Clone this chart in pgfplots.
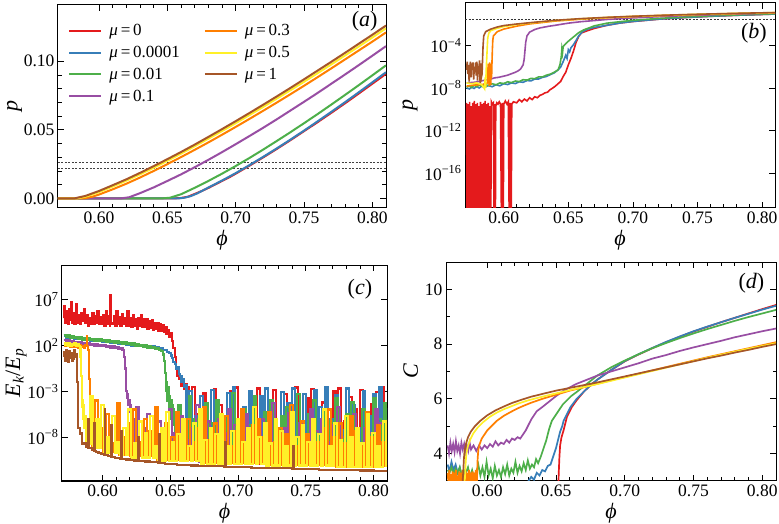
\documentclass[border=0pt]{standalone}
\usepackage{pgfplots}
\pgfplotsset{compat=1.18}
\usepackage{fontspec}
\setmainfont{Liberation Serif}
\definecolor{cR}{RGB}{228,26,28}
\definecolor{cB}{RGB}{55,126,184}
\definecolor{cG}{RGB}{77,175,74}
\definecolor{cP}{RGB}{152,78,163}
\definecolor{cO}{RGB}{255,127,0}
\definecolor{cY}{RGB}{255,240,40}
\definecolor{cN}{RGB}{166,86,40}
\tikzset{plab/.style={font=\fontsize{22}{22}\selectfont}}
\pgfplotsset{
 panel/.style={
   scale only axis, anchor=south west,
   xmin=0.57, xmax=0.81,
   xtick={0.60,0.65,0.70,0.75,0.80},
   minor x tick num=4,
   tick align=inside,
   major tick length=6pt, minor tick length=3.5pt,
   every tick/.style={black, line width=0.8pt},
   axis line style={black, line width=1pt},
   tick label style={font=\fontsize{17.5}{18}\selectfont},
   label style={font=\fontsize{22}{22}\selectfont},
   xlabel={\textit{ϕ}},
   x tick label style={/pgf/number format/.cd, fixed, fixed zerofill, precision=2, assume math mode=true},
   scaled x ticks=false,
 },
}
\begin{document}
\begin{tikzpicture}
\path[use as bounding box] (0pt,0pt) rectangle (779pt,524pt);
%% ---------------- (a)
\begin{axis}[panel, at={(58pt,316pt)}, width=328pt, height=203pt,
  ymin=-0.007, ymax=0.141, ytick={0,0.05,0.1}, minor y tick num=4,
  scaled y ticks=false,
  y tick label style={/pgf/number format/.cd, fixed, fixed zerofill, precision=2, assume math mode=true},
  ylabel={\textit{p}}, ylabel shift=-5pt,
  legend columns=2, legend cell align=left,
  legend style={draw=none, fill=none, at={(0.022,0.925)}, anchor=north west,
    font=\fontsize{17}{19}\selectfont, row sep=5pt,
    /tikz/every odd column/.append style={column sep=5pt},
    /tikz/every even column/.append style={column sep=22pt}},
  legend image code/.code={\draw[#1] (0pt,0pt) -- (32pt,0pt);},
  every axis plot/.append style={line width=2pt},
]
\addlegendimage{cR}\addlegendentry{\textit{μ}\,=\,0}
\addlegendimage{cO}\addlegendentry{\textit{μ}\,=\,0.3}
\addlegendimage{cB}\addlegendentry{\textit{μ}\,=\,0.0001}
\addlegendimage{cY}\addlegendentry{\textit{μ}\,=\,0.5}
\addlegendimage{cG}\addlegendentry{\textit{μ}\,=\,0.01}
\addlegendimage{cN}\addlegendentry{\textit{μ}\,=\,1}
\addlegendimage{cP}\addlegendentry{\textit{μ}\,=\,0.1}
\addplot[black!75, line width=0.7pt, dash pattern=on 2pt off 1.5pt, forget plot] coordinates {(0.57,0.026)(0.81,0.026)};
\addplot[black!75, line width=0.7pt, dash pattern=on 2pt off 1.5pt, forget plot] coordinates {(0.57,0.022)(0.81,0.022)};
\addplot[cR, forget plot] coordinates {(0.57,0)(0.655,0)(0.660,0.0003)(0.665,0.0012)(0.67,0.0032)(0.675,0.0053)(0.68,0.0076)(0.685,0.0101)(0.69,0.0127)(0.695,0.0152)(0.70,0.0180)(0.71,0.0238)(0.72,0.0298)(0.73,0.0360)(0.74,0.0424)(0.75,0.0490)(0.76,0.0556)(0.77,0.0624)(0.78,0.0693)(0.79,0.0764)(0.80,0.0836)(0.81,0.0908)};
\addplot[cB, forget plot] coordinates {(0.57,0)(0.658,0)(0.662,0.0004)(0.667,0.0016)(0.672,0.0037)(0.68,0.0079)(0.69,0.0130)(0.70,0.0184)(0.71,0.0242)(0.72,0.0302)(0.73,0.0364)(0.74,0.0428)(0.75,0.0494)(0.76,0.0562)(0.77,0.0631)(0.78,0.0701)(0.79,0.0773)(0.80,0.0846)(0.81,0.0920)};
\addplot[cG, forget plot] coordinates {(0.57,0)(0.646,0)(0.652,0.0005)(0.66,0.0030)(0.67,0.0077)(0.68,0.0127)(0.69,0.0180)(0.70,0.0236)(0.71,0.0294)(0.72,0.0355)(0.73,0.0418)(0.74,0.0482)(0.75,0.0548)(0.76,0.0615)(0.77,0.0684)(0.78,0.0754)(0.79,0.0825)(0.80,0.0897)(0.81,0.0970)};
\addplot[cP, forget plot] coordinates {(0.57,0)(0.616,0)(0.622,0.0008)(0.63,0.0038)(0.64,0.0080)(0.65,0.0127)(0.66,0.0175)(0.67,0.0227)(0.68,0.0281)(0.69,0.0337)(0.70,0.0395)(0.71,0.0454)(0.72,0.0514)(0.73,0.0576)(0.74,0.0640)(0.75,0.0704)(0.76,0.0769)(0.77,0.0836)(0.78,0.0903)(0.79,0.0971)(0.80,0.1040)(0.81,0.1110)};
\addplot[cO, forget plot] coordinates {(0.57,0)(0.589,0)(0.595,0.0012)(0.60,0.0028)(0.61,0.0066)(0.62,0.0107)(0.63,0.0152)(0.64,0.0200)(0.65,0.0250)(0.66,0.0301)(0.67,0.0354)(0.68,0.0408)(0.69,0.0464)(0.70,0.0521)(0.71,0.0579)(0.72,0.0638)(0.73,0.0698)(0.74,0.0759)(0.75,0.0821)(0.76,0.0884)(0.77,0.0948)(0.78,0.1013)(0.79,0.1078)(0.80,0.1143)(0.81,0.1210)};
\addplot[cY, forget plot] coordinates {(0.57,0)(0.584,0)(0.59,0.0012)(0.60,0.0046)(0.61,0.0086)(0.62,0.0129)(0.63,0.0175)(0.64,0.0223)(0.65,0.0274)(0.66,0.0326)(0.67,0.0380)(0.68,0.0435)(0.69,0.0491)(0.70,0.0548)(0.71,0.0607)(0.72,0.0666)(0.73,0.0727)(0.74,0.0788)(0.75,0.0850)(0.76,0.0913)(0.77,0.0977)(0.78,0.1042)(0.79,0.1107)(0.80,0.1173)(0.81,0.1240)};
\addplot[cN, forget plot] coordinates {(0.57,0)(0.582,0)(0.59,0.0018)(0.60,0.0054)(0.61,0.0096)(0.62,0.0139)(0.63,0.0186)(0.64,0.0235)(0.65,0.0286)(0.66,0.0338)(0.67,0.0392)(0.68,0.0448)(0.69,0.0505)(0.70,0.0563)(0.71,0.0622)(0.72,0.0682)(0.73,0.0743)(0.74,0.0805)(0.75,0.0868)(0.76,0.0932)(0.77,0.0996)(0.78,0.1061)(0.79,0.1127)(0.80,0.1193)(0.81,0.1260)};
\node[plab, anchor=north east] at (rel axis cs:0.985,0.985) {(\textit{a})};
\end{axis}
%% ---------------- (b)
\begin{axis}[panel, at={(465pt,316pt)}, width=310pt, height=205pt,
  ymode=log, ymin=5e-20, ymax=1, ytick={1e-16,1e-12,1e-8,1e-4},
  yticklabels={10\textsuperscript{−16},10\textsuperscript{−12},10\textsuperscript{−8},10\textsuperscript{−4}},
  yminorticks=false,
  ylabel={\textit{p}},
  every axis plot/.append style={line width=1.6pt},
]
\addplot[black!80, line width=0.7pt, dash pattern=on 2pt off 1.5pt] coordinates {(0.57,0.026)(0.81,0.026)};
\addplot[cR] coordinates {(0.5712,4e-10)(0.5718,1e-25)(0.5724,3e-10)(0.5730,1e-25)(0.5736,5e-10)(0.5742,1e-25)(0.5748,2e-10)(0.5754,1e-25)(0.5760,4e-10)(0.5766,1e-25)(0.5772,6e-10)(0.5778,1e-25)(0.5784,3e-10)(0.5790,1e-25)(0.5796,4e-10)(0.5802,1e-25)(0.5808,2e-10)(0.5814,1e-25)(0.5820,5e-10)(0.5826,1e-25)(0.5832,3e-10)(0.5838,1e-25)(0.5844,4e-10)(0.5850,1e-25)(0.5856,6e-10)(0.5862,1e-25)(0.5868,3e-10)(0.5874,1e-25)(0.5880,4e-10)(0.5886,1e-25)(0.5892,2e-10)(0.5898,1e-25)(0.5904,5e-10)(0.5912,3e-10)(0.5920,4e-10)(0.5926,1e-25)(0.5930,3e-10)(0.5934,1e-25)(0.5938,2e-10)(0.5946,4e-10)(0.5955,3e-10)(0.5965,5e-10)(0.5975,3e-10)(0.5985,1e-25)(0.5990,4e-10)(0.5995,1e-25)(0.6000,3e-10)(0.6012,6e-10)(0.6025,3e-10)(0.6035,5e-10)(0.6045,1e-25)(0.6050,4e-10)(0.6056,1e-25)(0.6062,3e-10)(0.6075,5e-10)(0.610,4e-10)(0.612,8e-10)(0.614,5e-10)(0.616,9e-10)(0.618,6e-10)(0.620,1.2e-9)(0.622,8e-10)(0.624,1.5e-9)(0.626,1.2e-9)(0.628,2e-9)(0.630,2.5e-9)(0.632,3.5e-9)(0.634,4e-9)(0.636,7e-9)(0.638,1e-8)(0.640,1.5e-8)(0.642,2.5e-8)(0.644,4e-8)(0.646,1.2e-7)(0.648,3e-7)(0.650,1.5e-6)(0.652,6e-6)(0.654,3e-5)(0.656,2e-4)(0.658,7e-4)(0.660,1.5e-3)(0.665,2.5e-3)(0.67,4e-3)(0.68,8e-3)(0.69,0.013)(0.70,0.018)(0.72,0.0298)(0.74,0.0424)(0.76,0.0556)(0.78,0.0693)(0.81,0.0908)};
\addplot[cB] coordinates {(0.5712,1e-8)(0.5735,8e-9)(0.575,1.2e-8)(0.577,9e-9)(0.579,1.4e-8)(0.581,1e-8)(0.583,1.5e-8)(0.585,1.1e-8)(0.588,1.7e-8)(0.591,1.3e-8)(0.594,2e-8)(0.597,1.6e-8)(0.600,2.5e-8)(0.603,2.1e-8)(0.606,3e-8)(0.609,2.6e-8)(0.612,3.8e-8)(0.615,3.4e-8)(0.618,5e-8)(0.621,4.6e-8)(0.624,7e-8)(0.627,7e-8)(0.630,1e-7)(0.633,1.2e-7)(0.636,1.8e-7)(0.639,2.6e-7)(0.642,5e-7)(0.644,9e-7)(0.646,3e-6)(0.648,1.2e-5)(0.649,6e-6)(0.650,4e-5)(0.651,2.5e-5)(0.652,6e-5)(0.654,1.2e-4)(0.656,3e-4)(0.658,8e-4)(0.661,2e-3)(0.665,3.5e-3)(0.67,5e-3)(0.68,8e-3)(0.69,0.013)(0.70,0.0184)(0.72,0.0302)(0.74,0.0428)(0.76,0.0562)(0.78,0.0701)(0.81,0.092)};
\addplot[cG] coordinates {(0.5712,1.2e-8)(0.5735,1.6e-8)(0.575,1.1e-8)(0.577,1.8e-8)(0.579,1.3e-8)(0.581,1.9e-8)(0.583,1.5e-8)(0.585,2.2e-8)(0.588,1.7e-8)(0.591,2.5e-8)(0.594,2e-8)(0.597,3e-8)(0.600,2.6e-8)(0.603,3.8e-8)(0.606,3.2e-8)(0.609,4.5e-8)(0.612,4e-8)(0.615,6e-8)(0.618,5.5e-8)(0.621,8e-8)(0.624,7.5e-8)(0.627,1.1e-7)(0.630,1.1e-7)(0.633,1.6e-7)(0.636,2e-7)(0.639,3e-7)(0.642,5e-7)(0.6435,1.5e-6)(0.6445,8e-6)(0.645,5e-5)(0.6455,2e-5)(0.646,8e-5)(0.648,1.5e-4)(0.650,2.5e-4)(0.652,4e-4)(0.655,8e-4)(0.658,1.6e-3)(0.662,3e-3)(0.667,5e-3)(0.67,7e-3)(0.68,0.0127)(0.70,0.0236)(0.72,0.0355)(0.74,0.0482)(0.76,0.0615)(0.78,0.0754)(0.81,0.097)};
\addplot[cP] coordinates {(0.5712,3e-8)(0.578,3.5e-8)(0.584,5e-8)(0.587,6e-8)(0.590,7e-8)(0.593,9e-8)(0.596,1e-7)(0.600,1.3e-7)(0.603,1.6e-7)(0.606,2.2e-7)(0.609,3e-7)(0.611,4e-7)(0.613,6e-7)(0.615,1.5e-6)(0.6158,5e-6)(0.6164,3e-5)(0.617,2e-4)(0.618,8e-4)(0.620,1.8e-3)(0.624,3.2e-3)(0.628,4.5e-3)(0.635,6.5e-3)(0.64,8e-3)(0.65,0.0127)(0.66,0.0175)(0.68,0.0281)(0.70,0.0395)(0.72,0.0514)(0.74,0.064)(0.76,0.0769)(0.78,0.0903)(0.81,0.111)};
\addplot[cO] coordinates {(0.5712,1.5e-8)(0.576,1.8e-8)(0.580,2e-8)(0.584,2.2e-8)(0.5876,3e-8)(0.5879,2e-6)(0.5882,3e-8)(0.5885,1.5e-6)(0.5888,1.5e-8)(0.5891,2.5e-6)(0.5894,5e-8)(0.5897,1e-6)(0.5900,2e-8)(0.5903,2e-6)(0.5906,1e-7)(0.5909,3e-6)(0.5912,4e-5)(0.5915,3e-4)(0.592,8e-4)(0.595,2e-3)(0.60,3.5e-3)(0.61,6.6e-3)(0.62,0.0107)(0.64,0.02)(0.66,0.0301)(0.68,0.0408)(0.70,0.0521)(0.72,0.0638)(0.74,0.0759)(0.76,0.0884)(0.78,0.1013)(0.81,0.121)};
\addplot[cY] coordinates {(0.5712,3e-8)(0.575,2.5e-8)(0.579,3e-8)(0.583,2e-8)(0.5852,8e-9)(0.5856,1e-7)(0.5860,1e-8)(0.5864,5e-7)(0.5868,5e-6)(0.5872,6e-5)(0.5876,5e-4)(0.5885,1.5e-3)(0.590,2.5e-3)(0.595,4.2e-3)(0.60,6e-3)(0.61,9.5e-3)(0.62,0.0129)(0.64,0.0223)(0.66,0.0326)(0.68,0.0435)(0.70,0.0548)(0.72,0.0666)(0.74,0.0788)(0.76,0.0913)(0.78,0.1042)(0.81,0.124)};
\addplot[cN] coordinates {(0.5712,5e-7)(0.5717,3e-6)(0.5722,2e-7)(0.5727,1.5e-6)(0.5732,4e-8)(0.5737,8e-7)(0.5742,3e-6)(0.5747,1e-7)(0.5752,2e-6)(0.5757,5e-7)(0.5762,2.5e-6)(0.5767,6e-8)(0.5772,1e-6)(0.5777,3e-7)(0.5782,2.5e-6)(0.5787,1.5e-7)(0.5792,3e-6)(0.5797,5e-8)(0.5802,1.2e-6)(0.5807,2e-7)(0.5812,4e-6)(0.5817,3e-8)(0.5822,2e-6)(0.5827,1e-7)(0.5832,2e-7)(0.5836,5e-6)(0.5840,1e-4)(0.5845,8e-4)(0.586,2e-3)(0.590,3.5e-3)(0.595,5.5e-3)(0.60,7.5e-3)(0.61,0.0105)(0.62,0.0139)(0.64,0.0235)(0.66,0.0338)(0.68,0.0448)(0.70,0.0563)(0.72,0.0682)(0.74,0.0805)(0.76,0.0932)(0.78,0.1061)(0.81,0.126)};
\node[plab, anchor=north east] at (rel axis cs:0.985,0.92) {(\textit{b})};
\end{axis}
%% ---------------- (c)
\begin{axis}[panel, at={(62pt,43pt)}, width=325pt, height=216pt,
  ymode=log, ymin=1.6e-13, ymax=6e10, ytick={1e-8,1e-3,1e2,1e7},
  yticklabels={10\textsuperscript{−8},10\textsuperscript{−3},10\textsuperscript{2},10\textsuperscript{7}},
  yminorticks=false,
  ylabel={\textit{E}\textsubscript{\textit{k}}/\textit{E}\textsubscript{\textit{p}}}, ylabel shift=-6pt,
  every axis plot/.append style={line width=2.2pt, const plot},
]
\addplot[cR] coordinates {(0.5712,1e5)(0.5717,2e6)(0.5722,3e4)(0.5732,5e5)(0.5742,2e4)(0.5752,1e6)(0.5762,6e4)(0.5767,5e6)(0.5772,3e4)(0.5782,3e5)(0.5792,2e4)(0.5802,3e6)(0.5812,3e4)(0.5822,2e5)(0.5832,2.5e4)(0.5842,3e5)(0.5852,5e4)(0.5862,1e6)(0.5872,3e4)(0.5882,2e5)(0.5892,1.5e4)(0.5902,1e5)(0.5912,2.5e4)(0.5922,3e5)(0.5932,2e4)(0.5942,1.5e5)(0.5952,3e4)(0.5962,6e5)(0.5972,2e4)(0.5982,1.3e5)(0.5992,2.5e4)(0.6002,2e5)(0.6012,1.5e4)(0.6022,5e5)(0.6032,2.5e4)(0.6042,1.5e5)(0.6052,1.2e4)(0.6057,3e7)(0.6062,3e4)(0.6072,2e4)(0.6082,1.5e5)(0.6092,1.5e4)(0.6102,6e5)(0.6112,2.5e4)(0.6122,1.3e5)(0.6132,1.5e4)(0.6142,2.5e5)(0.6152,2e4)(0.6162,1e5)(0.6172,1.2e4)(0.6182,5e5)(0.6192,1.5e4)(0.6202,1e5)(0.6212,1e4)(0.6222,2e5)(0.6232,1.2e4)(0.6242,8e4)(0.6252,7e3)(0.6262,1e5)(0.6272,1.2e4)(0.6282,2e5)(0.6292,1e4)(0.6302,7e4)(0.6312,1e4)(0.6322,8e4)(0.6332,7e3)(0.6342,5e4)(0.6352,8e3)(0.6362,6e4)(0.6372,5e3)(0.6382,3e4)(0.6392,7e3)(0.6402,3e4)(0.6412,4e3)(0.6422,2e4)(0.6432,4e3)(0.6442,1.5e4)(0.6452,3e3)(0.6462,1e4)(0.6472,2e3)(0.6482,5e3)(0.6492,800)(0.6502,2e3)(0.6512,300)(0.6522,50)(0.6532,5)(0.6542,0.3)(0.6552,0.05)(0.6562,0.02)(0.6572,0.04)(0.6582,4e-3)(0.6592,0.015)(0.6602,2e-3)(0.6612,6e-3)(0.6622,1e-3)(0.6632,3e-3)
(0.664,2e-9)(0.666,3e-3)(0.668,4e-11)(0.670,3e-6)(0.672,5e-10)(0.674,6e-4)(0.676,2e-11)(0.678,1e-7)(0.680,2e-11)(0.682,1.6e-3)(0.684,2e-10)(0.686,3e-5)(0.688,2e-11)(0.690,3e-7)(0.692,3e-11)(0.694,1e-3)(0.696,2e-11)(0.698,2.5e-3)(0.700,3e-9)(0.702,1e-5)(0.704,2e-11)(0.706,1e-8)(0.708,1e-10)(0.710,3e-4)(0.712,2e-11)(0.714,2e-3)(0.716,1.2e-11)(0.718,1e-6)(0.720,5e-11)(0.722,1e-4)(0.724,1.2e-11)(0.726,1.3e-3)(0.728,1e-9)(0.730,3e-8)(0.732,1.2e-11)(0.734,5e-4)(0.736,3e-11)(0.738,6e-6)(0.740,1.2e-11)(0.742,2.5e-3)(0.744,2e-10)(0.746,1.6e-7)(0.748,1.2e-11)(0.750,1.6e-4)(0.752,1.2e-11)(0.754,1.6e-3)(0.756,6e-11)(0.758,1.6e-6)(0.760,1.2e-11)(0.762,6e-5)(0.764,1.2e-11)(0.766,6e-9)(0.768,1e-10)(0.770,1e-3)(0.772,8e-12)(0.774,2e-3)(0.776,8e-12)(0.778,6e-7)(0.780,3e-11)(0.782,2.5e-4)(0.784,8e-12)(0.786,1e-5)(0.788,3e-9)(0.790,1.3e-3)(0.792,8e-12)(0.794,6e-8)(0.796,8e-12)(0.798,4e-5)(0.800,1e-11)(0.802,8e-4)(0.804,4e-10)(0.806,2.5e-3)(0.808,8e-12)(0.810,1e-6)};
\addplot[cB] coordinates {(0.5712,1200)(0.5727,700)(0.5742,1000)(0.5757,600)(0.5772,900)(0.5787,500)(0.5802,800)(0.5817,500)(0.5832,700)(0.5847,400)(0.5862,650)(0.5877,400)(0.5892,550)(0.5907,350)(0.5922,500)(0.5937,300)(0.5952,450)(0.5967,280)(0.5982,400)(0.5997,250)(0.6012,350)(0.6027,220)(0.6042,300)(0.6057,200)(0.6072,280)(0.6087,170)(0.6102,240)(0.6117,150)(0.6132,200)(0.6147,130)(0.6162,170)(0.6177,110)(0.6192,150)(0.6207,100)(0.6222,140)(0.6237,90)(0.6252,120)(0.6267,80)(0.6282,110)(0.6297,70)(0.6312,100)(0.6327,65)(0.6342,90)(0.6357,55)(0.6372,75)(0.6387,45)(0.6402,60)(0.6417,40)(0.6432,50)(0.6447,30)(0.6462,35)(0.6477,20)(0.6492,15)(0.6502,8)(0.6512,4)(0.6522,1.5)(0.6532,1)(0.6542,0.3)(0.6552,0.4)(0.6562,0.08)(0.6572,0.05)(0.6582,0.01)(0.6592,0.02)(0.6602,3e-3)(0.661,5e-3)
(0.662,1e-9)(0.664,1e-3)(0.666,4e-11)(0.668,2e-6)(0.670,2e-10)(0.672,3e-4)(0.674,2e-11)(0.676,5e-8)(0.678,2e-11)(0.680,1.5e-3)(0.682,1e-9)(0.684,1e-4)(0.686,2e-11)(0.688,1e-6)(0.690,2e-11)(0.692,6e-4)(0.694,3e-10)(0.696,3e-3)(0.698,2e-11)(0.700,2e-7)(0.702,2e-11)(0.704,2e-5)(0.706,1e-10)(0.708,1e-3)(0.710,2e-11)(0.712,5e-9)(0.714,2e-11)(0.716,3e-4)(0.718,2e-9)(0.720,2e-3)(0.722,1.2e-11)(0.724,3e-6)(0.726,1.2e-11)(0.728,1e-7)(0.730,1e-10)(0.732,8e-4)(0.734,1.2e-11)(0.736,5e-5)(0.738,1.2e-11)(0.740,2e-3)(0.742,5e-10)(0.744,1e-8)(0.746,1.2e-11)(0.748,5e-4)(0.750,1.2e-11)(0.752,3e-7)(0.754,1.2e-11)(0.756,1.2e-3)(0.758,1e-9)(0.760,2e-5)(0.762,1.2e-11)(0.764,3e-3)(0.766,1.2e-11)(0.768,1e-6)(0.770,1.2e-11)(0.772,4e-4)(0.774,8e-12)(0.776,6e-8)(0.778,2e-10)(0.780,2e-3)(0.782,8e-12)(0.784,3e-5)(0.786,8e-12)(0.788,1e-7)(0.790,8e-12)(0.792,1e-3)(0.794,1e-9)(0.796,2e-6)(0.798,8e-12)(0.800,5e-4)(0.802,8e-12)(0.804,3e-3)(0.806,8e-12)(0.808,1e-5)(0.810,8e-12)};
\addplot[cG] coordinates {(0.5712,1500)(0.5727,800)(0.5742,1200)(0.5757,700)(0.5772,1000)(0.5787,600)(0.5802,900)(0.5817,500)(0.5832,800)(0.5847,450)(0.5862,700)(0.5877,420)(0.5892,620)(0.5907,380)(0.5922,550)(0.5937,340)(0.5952,500)(0.5967,310)(0.5982,450)(0.5997,280)(0.6012,400)(0.6027,260)(0.6042,360)(0.6057,230)(0.6072,320)(0.6087,200)(0.6102,290)(0.6117,180)(0.6132,250)(0.6147,160)(0.6162,220)(0.6177,140)(0.6192,190)(0.6207,120)(0.6222,160)(0.6237,100)(0.6252,140)(0.6267,85)(0.6282,120)(0.6297,70)(0.6312,100)(0.6327,60)(0.6342,80)(0.6357,50)(0.6372,65)(0.6387,40)(0.6402,50)(0.6417,30)(0.6432,25)(0.6447,10)(0.6455,2)(0.6462,0.1)(0.6468,1e-3)(0.6473,1e-2)(0.6478,1e-4)(0.6483,3e-3)(0.6488,1e-5)(0.6493,3e-4)(0.6498,3e-6)(0.6503,1e-4)(0.6508,1e-6)(0.6513,3e-5)(0.6518,5e-7)(0.6523,1e-5)(0.6528,2e-7)
(0.6535,4e-11)(0.6555,3e-5)(0.6575,4e-11)(0.6595,1e-7)(0.6615,4e-11)(0.6635,3e-4)(0.6655,4e-11)(0.6675,1e-6)(0.6695,4e-11)(0.6715,1e-8)(0.6735,2e-11)(0.6755,5e-5)(0.6775,2e-11)(0.6795,3e-7)(0.6815,2e-11)(0.6835,1e-4)(0.6855,2e-11)(0.6875,5e-9)(0.6895,2e-11)(0.6915,2e-6)(0.6935,2e-11)(0.6955,6e-4)(0.6975,2e-11)(0.6995,3e-8)(0.7015,2e-11)(0.7035,1e-5)(0.7055,2e-11)(0.7075,2e-7)(0.7095,2e-11)(0.7115,3e-4)(0.7135,2e-11)(0.7155,1e-8)(0.7175,2e-11)(0.7195,5e-6)(0.7215,1.2e-11)(0.7235,1e-4)(0.7255,1.2e-11)(0.7275,6e-8)(0.7295,1.2e-11)(0.7315,2e-6)(0.7335,1.2e-11)(0.7355,2e-5)(0.7375,1.2e-11)(0.7395,1e-7)(0.7415,1.2e-11)(0.7435,5e-4)(0.7455,1.2e-11)(0.7475,3e-9)(0.7495,1.2e-11)(0.7515,3e-6)(0.7535,1.2e-11)(0.7555,1e-4)(0.7575,1.2e-11)(0.7595,2e-8)(0.7615,1.2e-11)(0.7635,1e-5)(0.7655,1.2e-11)(0.7675,5e-7)(0.7695,1.2e-11)(0.7715,2e-4)(0.7735,8e-12)(0.7755,1e-8)(0.7775,8e-12)(0.7795,3e-6)(0.7815,8e-12)(0.7835,6e-5)(0.7855,8e-12)(0.7875,1e-7)(0.7895,8e-12)(0.7915,1e-5)(0.7935,8e-12)(0.7955,3e-8)(0.7975,8e-12)(0.7995,2e-4)(0.8015,8e-12)(0.8035,1e-6)(0.8055,8e-12)(0.8075,5e-5)(0.8095,8e-12)};
\addplot[cP] coordinates {(0.5712,400)(0.5727,250)(0.5742,350)(0.5757,220)(0.5772,300)(0.5787,200)(0.5802,260)(0.5817,180)(0.5832,230)(0.5847,150)(0.5862,200)(0.5877,130)(0.5892,170)(0.5907,110)(0.5922,150)(0.5937,100)(0.5952,130)(0.5967,90)(0.5982,120)(0.5997,80)(0.6012,100)(0.6027,70)(0.6042,90)(0.6057,60)(0.6072,80)(0.6087,50)(0.6102,70)(0.6117,45)(0.6132,55)(0.6147,35)(0.6155,20)(0.6160,5)(0.6165,0.3)(0.6170,0.01)(0.6175,1e-3)(0.6180,2e-4)(0.6185,5e-4)(0.619,3e-5)(0.6195,1e-4)(0.620,5e-6)(0.6205,3e-5)(0.621,2e-6)(0.6215,1e-5)(0.622,1e-6)
(0.623,1e-10)(0.625,2e-5)(0.627,1e-10)(0.629,1e-7)(0.631,1e-10)(0.633,3e-6)(0.635,1e-10)(0.637,1e-8)(0.639,1e-10)(0.641,5e-7)(0.643,4e-11)(0.645,2e-9)(0.647,4e-11)(0.649,1e-5)(0.651,4e-11)(0.653,3e-8)(0.655,4e-11)(0.657,2e-6)(0.659,4e-11)(0.661,5e-9)(0.663,4e-11)(0.665,1e-7)(0.667,4e-11)(0.669,3e-5)(0.671,2e-11)(0.673,2e-8)(0.675,2e-11)(0.677,5e-7)(0.679,2e-11)(0.681,1e-9)(0.683,2e-11)(0.685,1e-6)(0.687,2e-11)(0.689,3e-8)(0.691,2e-11)(0.693,1e-5)(0.695,2e-11)(0.697,2e-7)(0.699,2e-11)(0.701,5e-9)(0.703,2e-11)(0.705,3e-6)(0.707,2e-11)(0.709,1e-8)(0.711,2e-11)(0.713,2e-7)(0.715,2e-11)(0.717,1e-6)(0.719,2e-11)(0.721,3e-9)(0.723,1.2e-11)(0.725,5e-5)(0.727,1.2e-11)(0.729,2e-8)(0.731,1.2e-11)(0.733,1e-7)(0.735,1.2e-11)(0.737,4e-6)(0.739,1.2e-11)(0.741,1e-9)(0.743,1.2e-11)(0.745,3e-7)(0.747,1.2e-11)(0.749,2e-8)(0.751,1.2e-11)(0.753,1e-5)(0.755,1.2e-11)(0.757,5e-8)(0.759,1.2e-11)(0.761,1e-6)(0.763,1.2e-11)(0.765,3e-9)(0.767,1.2e-11)(0.769,2e-7)(0.771,8e-12)(0.773,2e-5)(0.775,8e-12)(0.777,1e-8)(0.779,8e-12)(0.781,5e-7)(0.783,8e-12)(0.785,3e-6)(0.787,8e-12)(0.789,2e-9)(0.791,8e-12)(0.793,1e-7)(0.795,8e-12)(0.797,3e-8)(0.799,8e-12)(0.801,1e-5)(0.803,8e-12)(0.805,3e-7)(0.807,8e-12)};
\addplot[cO] coordinates {(0.5712,150)(0.5722,90)(0.5732,130)(0.5742,80)(0.5752,120)(0.5762,70)(0.5772,110)(0.5782,75)(0.5792,120)(0.5802,65)(0.5812,100)(0.5822,60)(0.5832,110)(0.5842,70)(0.5852,90)(0.5862,60)(0.5872,100)(0.5882,1000)(0.5887,80)(0.5892,30)(0.5897,2)(0.5902,0.02)(0.5907,1e-4)(0.5912,3e-6)(0.5917,5e-5)(0.5921,1e-7)
(0.5925,8e-10)(0.5945,1e-4)(0.5965,8e-10)(0.5985,1e-7)(0.6005,2.5e-10)(0.6025,3e-6)(0.6045,2.5e-10)(0.6065,2e-9)(0.6085,2.5e-10)(0.6105,5e-5)(0.6125,1.2e-10)(0.6145,1e-8)(0.6165,1.2e-10)(0.6185,3e-7)(0.6205,8e-11)(0.6225,1e-5)(0.6245,8e-11)(0.6265,3e-9)(0.6285,8e-11)(0.6305,1e-6)(0.6325,8e-11)(0.6345,5e-8)(0.6365,8e-11)(0.6385,2e-5)(0.6405,3e-11)(0.6425,1e-9)(0.6445,3e-11)(0.6465,3e-7)(0.6485,3e-11)(0.6505,1e-8)(0.6525,3e-11)(0.6545,5e-6)(0.6565,3e-11)(0.6585,2e-8)(0.6605,3e-11)(0.6625,1e-6)(0.6645,3e-11)(0.6665,3e-9)(0.6685,3e-11)(0.6705,1e-7)(0.6725,1.5e-11)(0.6745,2e-5)(0.6765,1.5e-11)(0.6785,5e-9)(0.6805,1.5e-11)(0.6825,3e-7)(0.6845,1.5e-11)(0.6865,1e-8)(0.6885,1.5e-11)(0.6905,2e-6)(0.6925,1.5e-11)(0.6945,1e-9)(0.6965,1.5e-11)(0.6985,5e-8)(0.7005,1.5e-11)(0.7025,1e-5)(0.7045,1.5e-11)(0.7065,3e-9)(0.7085,1.5e-11)(0.7105,2e-7)(0.7125,1.5e-11)(0.7145,1e-6)(0.7165,1.5e-11)(0.7185,1e-8)(0.7205,1e-11)(0.7225,5e-6)(0.7245,1e-11)(0.7265,3e-9)(0.7285,1e-11)(0.7305,1e-7)(0.7325,1e-11)(0.7345,2e-8)(0.7365,1e-11)(0.7385,3e-5)(0.7405,1e-11)(0.7425,1e-9)(0.7445,1e-11)(0.7465,5e-7)(0.7485,1e-11)(0.7505,2e-8)(0.7525,1e-11)(0.7545,1e-6)(0.7565,1e-11)(0.7585,3e-9)(0.7605,1e-11)(0.7625,1e-7)(0.7645,1e-11)(0.7665,1e-5)(0.7685,1e-11)(0.7705,1e-8)(0.7725,6e-12)(0.7745,3e-7)(0.7765,6e-12)(0.7785,2e-9)(0.7805,6e-12)(0.7825,2e-6)(0.7845,6e-12)(0.7865,5e-8)(0.7885,6e-12)(0.7905,1e-9)(0.7925,6e-12)(0.7945,5e-6)(0.7965,6e-12)(0.7985,1e-8)(0.8005,6e-12)(0.8025,2e-7)(0.8045,6e-12)(0.8065,3e-9)(0.8085,6e-12)};
\addplot[cY] coordinates {(0.5712,200)(0.5722,120)(0.5732,180)(0.5742,100)(0.5752,160)(0.5762,90)(0.5772,150)(0.5782,110)(0.5792,170)(0.5802,90)(0.5812,140)(0.5822,80)(0.5832,60)(0.5837,5)(0.5841,0.05)(0.5845,1e-3)(0.5849,2e-5)(0.5853,1e-4)(0.5857,1e-6)(0.5861,3e-5)(0.5865,1e-7)(0.5870,2e-6)(0.5875,2e-9)(0.5880,5e-7)(0.5885,1e-9)
(0.589,2e-9)(0.591,3e-4)(0.593,6e-10)(0.595,1e-6)(0.597,6e-10)(0.599,3e-5)(0.601,2e-10)(0.603,1e-8)(0.605,2e-10)(0.607,2e-6)(0.609,2e-10)(0.611,3e-9)(0.613,1e-10)(0.615,1e-7)(0.617,1e-10)(0.619,1e-5)(0.621,6e-11)(0.623,2e-9)(0.625,6e-11)(0.627,5e-7)(0.629,6e-11)(0.631,3e-8)(0.633,6e-11)(0.635,2e-6)(0.637,6e-11)(0.639,1e-9)(0.641,2.5e-11)(0.643,1e-7)(0.645,2.5e-11)(0.647,5e-6)(0.649,2.5e-11)(0.651,3e-9)(0.653,2.5e-11)(0.655,2e-8)(0.657,2.5e-11)(0.659,1e-6)(0.661,2.5e-11)(0.663,1e-9)(0.665,2.5e-11)(0.667,3e-7)(0.669,2.5e-11)(0.671,1e-5)(0.673,1.2e-11)(0.675,5e-9)(0.677,1.2e-11)(0.679,1e-7)(0.681,1.2e-11)(0.683,2e-8)(0.685,1.2e-11)(0.687,3e-6)(0.689,1.2e-11)(0.691,1e-9)(0.693,1.2e-11)(0.695,5e-8)(0.697,1.2e-11)(0.699,1e-6)(0.701,1.2e-11)(0.703,3e-9)(0.705,1.2e-11)(0.707,1e-7)(0.709,1.2e-11)(0.711,2e-5)(0.713,1.2e-11)(0.715,1e-8)(0.717,1.2e-11)(0.719,3e-7)(0.721,8e-12)(0.723,2e-9)(0.725,8e-12)(0.727,1e-6)(0.729,8e-12)(0.731,5e-8)(0.733,8e-12)(0.735,1e-9)(0.737,8e-12)(0.739,5e-6)(0.741,8e-12)(0.743,1e-8)(0.745,8e-12)(0.747,2e-7)(0.749,8e-12)(0.751,3e-9)(0.753,8e-12)(0.755,1e-6)(0.757,8e-12)(0.759,2e-8)(0.761,8e-12)(0.763,1e-5)(0.765,8e-12)(0.767,1e-9)(0.769,8e-12)(0.771,3e-7)(0.773,5e-12)(0.775,5e-9)(0.777,5e-12)(0.779,2e-6)(0.781,5e-12)(0.783,1e-8)(0.785,5e-12)(0.787,1e-7)(0.789,5e-12)(0.791,2e-9)(0.793,5e-12)(0.795,3e-6)(0.797,5e-12)(0.799,3e-8)(0.801,5e-12)(0.803,1e-9)(0.805,5e-12)(0.807,5e-7)(0.809,5e-12)};
\addplot[cN] coordinates {(0.5712,5)(0.5718,20)(0.5724,2)(0.573,30)(0.5736,3)(0.5742,10)(0.5748,1.5)(0.5754,25)(0.576,4)(0.5766,8)(0.5772,2)(0.5778,15)(0.5784,3)(0.579,30)(0.5796,5)(0.5802,12)(0.5808,2.5)(0.5812,0.01)(0.5816,1e-5)(0.582,1e-7)(0.583,2.5e-8)(0.585,2e-9)(0.588,9e-10)(0.589,7e-10)(0.5895,1e-6)(0.590,6e-10)(0.592,4e-10)(0.593,3.5e-10)(0.5935,3e-7)(0.594,3e-10)(0.595,2.5e-10)(0.597,1.8e-10)(0.599,1.4e-10)(0.601,1.2e-10)(0.6015,1e-5)(0.602,1.1e-10)(0.604,9e-11)(0.606,7e-11)(0.6065,2e-7)(0.607,6.5e-11)(0.609,5.5e-11)(0.611,5e-11)(0.613,4.2e-11)(0.6135,5e-8)(0.614,4e-11)(0.617,3.5e-11)(0.620,3e-11)(0.623,2.8e-11)(0.626,2.6e-11)(0.6265,1e-8)(0.627,2.5e-11)(0.631,2.1e-11)(0.635,1.8e-11)(0.641,1.5e-11)(0.6415,2e-8)(0.642,1.4e-11)(0.646,1.25e-11)(0.650,1.1e-11)(0.655,9.5e-12)(0.660,8.5e-12)(0.665,7.7e-12)(0.670,7e-12)(0.680,6.3e-12)(0.690,5.6e-12)(0.6905,3e-9)(0.691,5.5e-12)(0.700,5e-12)(0.710,4.6e-12)(0.720,4.3e-12)(0.730,4e-12)(0.740,3.7e-12)(0.7405,1e-9)(0.741,3.6e-12)(0.750,3.2e-12)(0.760,2.8e-12)(0.770,2.6e-12)(0.780,2.4e-12)(0.790,2.2e-12)(0.800,2.1e-12)(0.81,2e-12)};
\node[plab, anchor=north east] at (rel axis cs:0.965,0.95) {(\textit{c})};
\end{axis}
%% ---------------- (d)
\begin{axis}[panel, at={(446pt,43pt)}, width=330pt, height=219pt,
  ymin=3, ymax=11, ytick={4,6,8,10}, minor y tick num=1,
  y tick label style={/pgf/number format/assume math mode=true},
  ylabel={\textit{C}},
  every axis plot/.append style={line width=1.7pt},
]
\addplot[cR] coordinates {(0.6515,2.5)(0.652,3.3)(0.6525,3.9)(0.653,4.3)(0.654,4.6)(0.6555,4.85)(0.658,5.35)(0.6615,5.7)(0.665,5.95)(0.670,6.25)(0.675,6.5)(0.68,6.7)(0.69,7.05)(0.70,7.37)(0.71,7.62)(0.72,7.85)(0.73,8.07)(0.74,8.27)(0.75,8.46)(0.76,8.63)(0.77,8.8)(0.78,8.96)(0.79,9.12)(0.80,9.28)(0.81,9.43)};
\addplot[cB] coordinates {(0.5712,3.6)(0.5725,3.35)(0.574,3.7)(0.5755,3.4)(0.577,3.6)(0.5785,3.3)(0.580,3.5)(0.5815,3.15)(0.583,3.3)(0.5845,3.0)(0.586,3.1)(0.588,2.9)(0.628,2.9)(0.630,3.0)(0.632,3.15)(0.634,3.05)(0.636,3.3)(0.638,3.2)(0.640,3.4)(0.642,3.35)(0.644,3.55)(0.646,3.6)(0.648,3.9)(0.650,4.2)(0.6515,4.5)(0.653,4.8)(0.6545,5.0)(0.6555,5.2)(0.658,5.45)(0.6605,5.7)(0.665,6.0)(0.67,6.25)(0.675,6.5)(0.68,6.7)(0.69,7.05)(0.70,7.38)(0.71,7.63)(0.72,7.86)(0.73,8.08)(0.74,8.28)(0.75,8.47)(0.76,8.64)(0.77,8.8)(0.78,8.96)(0.79,9.11)(0.80,9.26)(0.81,9.4)};
\addplot[cG] coordinates {(0.5712,3.4)(0.5725,3.3)(0.574,3.5)(0.5755,3.25)(0.577,3.45)(0.5785,3.3)(0.580,3.5)(0.5815,3.2)(0.583,3.4)(0.5845,3.3)(0.586,3.5)(0.5875,3.15)(0.589,3.4)(0.5905,3.1)(0.592,3.3)(0.5935,3.6)(0.595,3.2)(0.5965,3.5)(0.598,3.15)(0.5995,3.7)(0.601,3.2)(0.6025,3.45)(0.604,3.1)(0.6055,3.55)(0.607,3.2)(0.6085,3.4)(0.610,3.15)(0.6115,3.5)(0.613,3.25)(0.6145,3.6)(0.616,3.2)(0.6175,3.45)(0.619,3.3)(0.6205,3.7)(0.622,3.3)(0.6235,3.55)(0.625,3.35)(0.6265,3.65)(0.628,3.4)(0.6295,3.75)(0.631,3.45)(0.6325,3.6)(0.634,3.5)(0.6355,3.8)(0.637,3.65)(0.639,3.9)(0.641,4.2)(0.643,4.5)(0.645,4.9)(0.647,5.2)(0.649,5.35)(0.651,5.5)(0.653,5.65)(0.655,5.8)(0.658,5.95)(0.661,6.1)(0.665,6.25)(0.67,6.45)(0.675,6.65)(0.68,6.85)(0.69,7.15)(0.70,7.4)(0.71,7.63)(0.72,7.85)(0.73,8.04)(0.74,8.22)(0.75,8.39)(0.76,8.55)(0.77,8.7)(0.78,8.85)(0.79,8.99)(0.80,9.12)(0.81,9.25)};
\addplot[cP] coordinates {(0.5712,4.3)(0.5722,4.0)(0.5732,4.4)(0.5742,4.1)(0.5752,4.35)(0.5762,4.05)(0.5772,4.45)(0.5782,4.1)(0.5792,4.3)(0.5802,4.0)(0.5812,4.4)(0.5822,4.15)(0.5832,4.35)(0.5842,4.05)(0.5852,4.3)(0.5862,4.1)(0.5872,4.4)(0.5882,4.15)(0.590,4.3)(0.592,4.1)(0.594,4.3)(0.596,4.15)(0.598,4.3)(0.600,4.2)(0.602,4.35)(0.604,4.25)(0.606,4.45)(0.608,4.3)(0.610,4.4)(0.612,4.35)(0.614,4.5)(0.616,4.4)(0.618,4.55)(0.620,4.5)(0.622,4.6)(0.624,4.55)(0.626,4.7)(0.628,4.85)(0.630,5.05)(0.632,5.25)(0.634,5.4)(0.636,5.55)(0.640,5.7)(0.645,5.9)(0.65,6.1)(0.655,6.28)(0.66,6.42)(0.665,6.55)(0.67,6.65)(0.68,6.85)(0.69,7.0)(0.70,7.15)(0.71,7.3)(0.72,7.47)(0.73,7.6)(0.74,7.75)(0.75,7.88)(0.76,8.0)(0.77,8.12)(0.78,8.25)(0.79,8.36)(0.80,8.47)(0.81,8.57)};
\addplot[cO] coordinates {(0.5712,3.3)(0.5718,2.9)(0.5724,3.4)(0.5730,2.9)(0.5736,3.25)(0.5742,2.9)(0.5748,3.35)(0.5754,2.9)(0.5760,3.3)(0.5766,2.9)(0.5772,3.4)(0.5778,2.9)(0.5784,3.2)(0.5790,2.9)(0.5796,3.35)(0.5802,2.9)(0.5808,3.3)(0.5814,2.9)(0.5820,3.4)(0.5826,2.9)(0.5832,3.25)(0.5838,2.9)(0.5844,3.35)(0.5850,2.9)(0.5856,3.3)(0.5862,2.9)(0.5868,3.4)(0.5874,2.9)(0.5880,3.3)(0.5886,2.9)(0.5892,3.35)(0.5898,2.9)(0.5904,3.3)(0.5910,2.9)(0.5916,3.4)(0.5922,2.9)(0.5925,3.0)(0.593,3.8)(0.5935,4.15)(0.5945,4.35)(0.596,4.55)(0.598,4.7)(0.600,4.85)(0.603,5.0)(0.607,5.2)(0.612,5.38)(0.617,5.52)(0.622,5.65)(0.627,5.76)(0.632,5.86)(0.64,6.0)(0.65,6.15)(0.66,6.3)(0.67,6.42)(0.68,6.55)(0.69,6.68)(0.70,6.8)(0.71,6.92)(0.72,7.04)(0.73,7.16)(0.74,7.28)(0.75,7.4)(0.76,7.52)(0.77,7.63)(0.78,7.74)(0.79,7.85)(0.80,7.96)(0.81,8.07)};
\addplot[cY] coordinates {(0.5712,2.9)(0.583,2.9)(0.5838,3.1)(0.5842,3.6)(0.5848,4.0)(0.5858,4.25)(0.5875,4.5)(0.590,4.75)(0.593,4.95)(0.597,5.15)(0.602,5.35)(0.607,5.5)(0.612,5.62)(0.617,5.72)(0.622,5.82)(0.63,5.95)(0.64,6.08)(0.65,6.2)(0.66,6.32)(0.67,6.43)(0.68,6.54)(0.69,6.66)(0.70,6.78)(0.71,6.9)(0.72,7.02)(0.73,7.14)(0.74,7.26)(0.75,7.38)(0.76,7.5)(0.77,7.61)(0.78,7.72)(0.79,7.83)(0.80,7.93)(0.81,8.03)};
\addplot[cN] coordinates {(0.5712,2.9)(0.582,2.9)(0.5825,3.3)(0.583,3.8)(0.5835,4.1)(0.5845,4.35)(0.586,4.6)(0.588,4.8)(0.591,5.0)(0.595,5.2)(0.600,5.4)(0.606,5.58)(0.612,5.72)(0.618,5.85)(0.625,5.97)(0.632,6.08)(0.64,6.18)(0.65,6.3)(0.66,6.4)(0.67,6.5)(0.68,6.6)(0.69,6.71)(0.70,6.82)(0.71,6.93)(0.72,7.04)(0.73,7.15)(0.74,7.26)(0.75,7.37)(0.76,7.48)(0.77,7.58)(0.78,7.69)(0.79,7.79)(0.80,7.9)(0.81,8.0)};
\node[plab, anchor=north east] at (rel axis cs:0.975,0.965) {(\textit{d})};
\end{axis}
\end{tikzpicture}
\end{document}
